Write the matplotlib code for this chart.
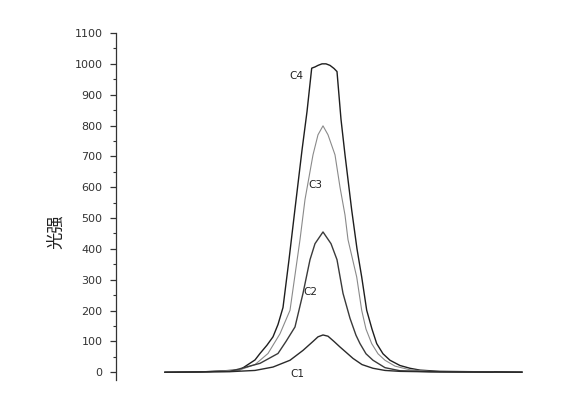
import matplotlib
matplotlib.use("Agg")
import matplotlib.pyplot as plt
from matplotlib.ticker import MultipleLocator

# ---- data (x in arbitrary channel units, y = light intensity) ----
c4_x = [49, 84, 109, 124, 131, 139, 144, 151, 157, 162, 167, 173, 179, 186, 191,
        195.7, 199, 202, 206, 210, 214, 218, 221, 225, 229, 235.7, 241, 245.7, 250.7,
        256, 260.7, 267, 274, 284, 294, 304, 324, 354, 406]
c4_y = [0, 1, 5, 8, 23, 40, 61, 88, 115, 155, 210, 365, 530, 720, 845,
        986, 990, 995, 1000, 1000, 995, 985, 975, 820, 705, 526, 400, 309, 201,
        140, 93, 60, 39, 22, 13, 7, 3, 2, 1]

c3_x = [49, 94, 124, 139, 152, 164, 174, 184, 189, 197, 202, 207, 212, 219, 224,
        229, 232, 240.7, 245.7, 250, 255.7, 262, 269, 279, 294, 314, 377]
c3_y = [0, 2, 8, 25, 61, 125, 201, 430, 560, 705, 770, 799, 770, 705, 600,
        510, 430, 309, 201, 140, 93, 60, 39, 20, 8, 3, 1]

c2_x = [49, 114, 144, 162, 170, 179, 187, 194, 199, 207, 215, 221, 227, 234, 240,
        244, 250, 257, 269, 284, 314, 377]
c2_y = [0, 3, 29, 61, 100, 147, 256, 365, 417, 455, 417, 365, 256, 175, 120,
        93, 60, 39, 15, 5, 2, 1]

c1_x = [49, 114, 139, 157, 174, 187, 197, 202, 207, 212, 218, 224, 230, 237, 246,
        257, 269, 284, 324, 406]
c1_y = [0, 2, 6, 17, 39, 71, 100, 115, 121, 117, 100, 82, 65, 45, 25,
        13, 6, 3, 1, 0]

series = [("C4", c4_x, c4_y, "#1e1e1e", 1.0),
          ("C3", c3_x, c3_y, "#8a8a8a", 0.8),
          ("C2", c2_x, c2_y, "#3a3a3a", 1.0),
          ("C1", c1_x, c1_y, "#2a2a2a", 1.0)]

label_pos = {"C4": (180, 959), "C3": (199, 608), "C2": (194, 261), "C1": (181, -4)}

y_ticks = list(range(0, 1101, 100))
y_label = "光强"

# ---- figure ----
plt.rcParams['font.family'] = ['DejaVu Sans']
W, H = 562, 399
fig = plt.figure(figsize=(W / 100, H / 100), dpi=100)
ax = fig.add_axes([116 / W, (H - 380) / H, (540 - 116) / W, (380 - 33) / H])

for name, xs, ys, col, lw in series:
    ax.plot(xs, ys, color=col, lw=lw, solid_joinstyle="round")
    lx, ly = label_pos[name]
    ax.text(lx, ly, name, fontsize=7.5, color="#222222", ha="center", va="center")

ax.set_xlim(0, 424)
ax.set_ylim(-25, 1100)
ax.set_yticks(y_ticks)
ax.yaxis.set_minor_locator(MultipleLocator(50))
ax.tick_params(axis="y", which="major", direction="out", length=4.3, width=0.9,
               pad=5.5, labelsize=8, colors="#333333")
ax.tick_params(axis="y", which="minor", direction="out", length=2.2, width=0.8,
               colors="#333333")
ax.set_xticks([])
for s in ["top", "right", "bottom"]:
    ax.spines[s].set_visible(False)
ax.spines["left"].set_color("#333333")
ax.spines["left"].set_linewidth(0.9)
ax.patch.set_alpha(0)

fig.text(56 / W, 1 - 232 / H, y_label, rotation=90, ha="center", va="center",
         fontsize=12.5, color="#222222",
         family=["Noto Sans CJK SC", "DejaVu Sans"])

fig.savefig("out.png", dpi=100, facecolor="white")
